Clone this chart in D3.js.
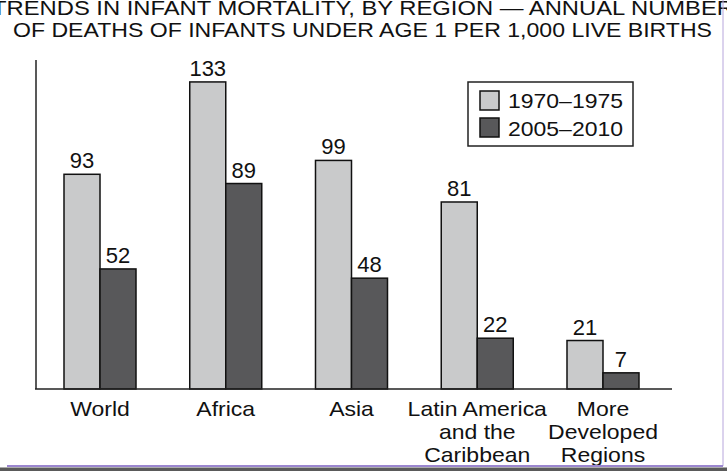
<!DOCTYPE html>
<html>
<head>
<meta charset="utf-8">
<script src="https://cdn.jsdelivr.net/npm/d3@7/dist/d3.min.js"></script>
<style>
  html, body { margin: 0; padding: 0; background: #fff; }
  svg { display: block; }
  text { font-family: "Liberation Sans", Arial, Helvetica, sans-serif; fill: #111; }
</style>
</head>
<body>
<div id="chart"></div>
<script>
// Datos del gráfico
const regiones = [["World"], ["Africa"], ["Asia"], ["Latin America", "and the", "Caribbean"], ["More", "Developed", "Regions"]];
const series = ["1970\u20131975", "2005\u20132010"];
const valores1970 = [93, 133, 99, 81, 21];
const valores2005 = [52, 89, 48, 22, 7];
const tituloLineas = [
  "TRENDS IN INFANT MORTALITY, BY REGION \u2014 ANNUAL NUMBER",
  "OF DEATHS OF INFANTS UNDER AGE 1 PER 1,000 LIVE BIRTHS"
];

const width = 727, height = 471;
const svg = d3.select("#chart").append("svg")
  .attr("width", width)
  .attr("height", height);

const nombres = regiones.map(r => r.join(" "));
const datos = [];
nombres.forEach((n, i) => {
  datos.push({ region: n, serie: series[0], valor: valores1970[i] });
  datos.push({ region: n, serie: series[1], valor: valores2005[i] });
});

// Escalas
const x = d3.scaleBand().domain(nombres).range([64, 639]).paddingInner(0.4274).paddingOuter(0);
const x1 = d3.scaleBand().domain(series).range([0, x.bandwidth()]);
const y = d3.scaleLinear().domain([0, 142.5]).range([389, 60]);
const color = d3.scaleOrdinal().domain(series).range(["#c9cacb", "#58585a"]);

// Titulo
svg.selectAll("text.titulo")
  .data(tituloLineas)
  .enter().append("text")
  .attr("class", "titulo")
  .attr("x", (d, i) => i === 0 ? 363 : 362.5)
  .attr("y", (d, i) => i === 0 ? 15 : 37)
  .attr("text-anchor", "middle")
  .attr("font-size", "21px")
  .attr("textLength", (d, i) => i === 0 ? 742 : 699)
  .attr("lengthAdjust", "spacingAndGlyphs")
  .text(d => d);

// Barras
svg.selectAll("rect.barra")
  .data(datos)
  .enter().append("rect")
  .attr("class", "barra")
  .attr("x", d => x(d.region) + x1(d.serie))
  .attr("y", d => y(d.valor))
  .attr("width", x1.bandwidth())
  .attr("height", d => y(0) - y(d.valor))
  .attr("fill", d => color(d.serie))
  .attr("stroke", "#111")
  .attr("stroke-width", 1.5);

// Etiquetas de valores
svg.selectAll("text.valor")
  .data(datos)
  .enter().append("text")
  .attr("class", "valor")
  .attr("x", d => x(d.region) + x1(d.serie) + x1.bandwidth() / 2)
  .attr("y", d => y(d.valor) - 6)
  .attr("text-anchor", "middle")
  .attr("font-size", "22px")
  .text(d => d.valor);

// Ejes
svg.append("line")
  .attr("x1", 36).attr("x2", 36)
  .attr("y1", y(142.5)).attr("y2", y(0))
  .attr("stroke", "#222").attr("stroke-width", 1.5);
svg.append("line")
  .attr("x1", 35).attr("x2", 672)
  .attr("y1", y(0)).attr("y2", y(0))
  .attr("stroke", "#222").attr("stroke-width", 1.5);

// Etiquetas de categorias (texto algo ensanchado, como en el original)
const etiquetas = svg.selectAll("text.cat")
  .data(regiones)
  .enter().append("text")
  .attr("class", "cat")
  .attr("text-anchor", "middle")
  .attr("font-size", "20px")
  .attr("transform", (d, i) => `translate(${x(nombres[i]) + x.bandwidth() / 2},416) scale(1.15,1)`);
etiquetas.selectAll("tspan")
  .data(d => d)
  .enter().append("tspan")
  .attr("x", 0)
  .attr("y", (d, i) => i * 23)
  .text(d => d);

// Leyenda
const leyenda = svg.append("g").attr("transform", "translate(468,82)");
leyenda.append("rect")
  .attr("width", 165).attr("height", 64)
  .attr("fill", "#fff").attr("stroke", "#222").attr("stroke-width", 1.5);
series.forEach((s, i) => {
  leyenda.append("rect")
    .attr("x", 12).attr("y", 9 + i * 27)
    .attr("width", 19).attr("height", 19)
    .attr("fill", color(s)).attr("stroke", "#111").attr("stroke-width", 1.5);
  leyenda.append("text")
    .attr("x", 40).attr("y", 26 + i * 28)
    .attr("font-size", "21px")
    .attr("textLength", 115)
    .attr("lengthAdjust", "spacingAndGlyphs")
    .text(s);
});

// Borde de la captura
svg.append("line")
  .attr("x1", 723).attr("x2", 723).attr("y1", 0).attr("y2", 466)
  .attr("stroke", "#b7a6dc").attr("stroke-width", 1);
svg.append("line")
  .attr("x1", 7).attr("x2", 723).attr("y1", 466).attr("y2", 466)
  .attr("stroke", "#9b86cf").attr("stroke-width", 2);
svg.append("rect")
  .attr("x", 0).attr("y", 467.5).attr("width", width).attr("height", 3.5)
  .attr("fill", "#5a5a5a");
</script>
</body>
</html>
